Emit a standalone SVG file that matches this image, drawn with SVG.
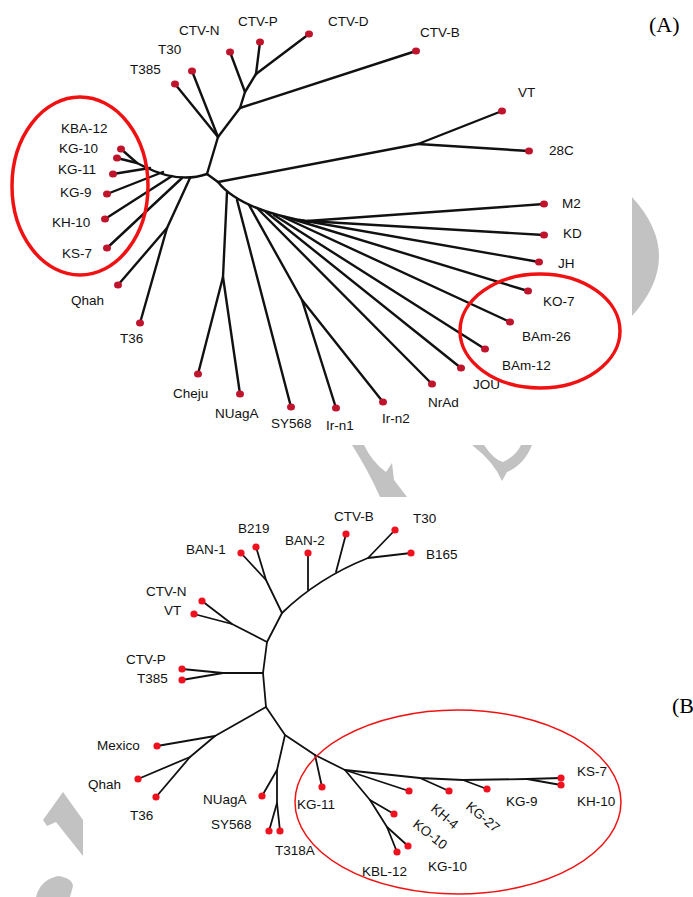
<svg xmlns="http://www.w3.org/2000/svg" width="693" height="897" viewBox="0 0 693 897">
<style>
  .lab { font-family: "Liberation Sans", Arial, sans-serif; font-size: 13.5px; fill: #111; }
  .tag { font-family: "Liberation Serif", "Times New Roman", serif; font-size: 22px; fill: #000; }
  .ea { stroke: #111; stroke-width: 2.4; fill: none; stroke-linecap: round; stroke-linejoin: round; }
  .eb { stroke: #111; stroke-width: 1.8; fill: none; stroke-linecap: round; stroke-linejoin: round; }
  .ta { fill: #c0142c; }
  .tb { fill: #f0101e; }
  .ring { fill: none; stroke: #f01212; }
  .mark { fill: #c2c2c2; }
</style>

<rect width="693" height="897" fill="#ffffff"/>

<!-- faint grey mark shapes -->
<g id="marks">
  <path class="mark" d="M632,197 Q686,256 632,316 Z"/>
  <path class="mark" d="M352,445 L364,445 Q372,462 386,472 L392,463 L394,480 L407,497 L380,497 Q368,470 352,445 Z"/>
  <path class="mark" d="M472,445 L484,445 Q494,460 503,462 Q516,456 521,445 L532,445 Q524,465 507,472 L502,481 Q494,462 472,445 Z"/>
  <path class="mark" d="M63,792 L83,820 L83,856 L56,822 L47,826 L43,820 Z"/>
  <path class="mark" d="M36,897 Q40,880 58,876 Q72,878 73,886 L70,897 Z"/>
</g>

<!-- (A) tree: branches -->
<g id="edges-a" class="ea">
  <!-- left backbone -->
  <path d="M207,174 Q178,184 143,166"/>
  <path d="M121,149 L137,163 L143,166"/>
  <path d="M117,158 L137,163"/>
  <path d="M113,174 L150,168"/>
  <path d="M107,194 L163,172"/>
  <path d="M105,219 L172,176"/>
  <path d="M107,248 L182,178"/>
  <path d="M140,323 L167,228 L190,178"/>
  <path d="M118,285 L167,228"/>
  <!-- upper spine -->
  <path d="M207,174 L218,137 L240,108 L245,92 L256,74"/>
  <path d="M175,84 L218,137"/>
  <path d="M192,71 L218,137"/>
  <path d="M240,108 L416,51"/>
  <path d="M245,92 L230,52"/>
  <path d="M256,74 L260,42"/>
  <path d="M256,74 L309,34"/>
  <!-- right arm -->
  <path d="M207,174 L218,182 L418,144 L502,111"/>
  <path d="M418,144 L529,151"/>
  <!-- lower fan -->
  <path d="M218,182 Q240,210 310,222"/>
  <path d="M227,192 L223,277 L198,374"/>
  <path d="M223,277 L240,394"/>
  <path d="M237,200 L291,407"/>
  <path d="M249,205 L302,300 L336,408"/>
  <path d="M302,300 L383,402"/>
  <path d="M258,209 L432,384"/>
  <path d="M266,212 L461,368"/>
  <path d="M274,215 L485,349"/>
  <path d="M283,217 L510,322"/>
  <path d="M292,219 L528,291"/>
  <path d="M300,220 L539,262"/>
  <path d="M307,221 L544,235"/>
  <path d="M307,221 L544,204"/>
</g>

<!-- (A) tree: tips and labels -->
<g id="tips-a">
  <g id="a-ctvn"><ellipse class="ta" cx="230" cy="52" rx="4" ry="3.5"/><text class="lab" x="179" y="35">CTV-N</text></g>
  <g id="a-ctvp"><ellipse class="ta" cx="260" cy="42" rx="4" ry="3.5"/><text class="lab" x="238" y="26">CTV-P</text></g>
  <g id="a-ctvd"><ellipse class="ta" cx="309" cy="34" rx="4" ry="3.5"/><text class="lab" x="328" y="26">CTV-D</text></g>
  <g id="a-ctvb"><ellipse class="ta" cx="416" cy="51" rx="4" ry="3.5"/><text class="lab" x="420" y="37">CTV-B</text></g>
  <g id="a-t30"><ellipse class="ta" cx="192" cy="71" rx="4" ry="3.5"/><text class="lab" x="158" y="54">T30</text></g>
  <g id="a-t385"><ellipse class="ta" cx="175" cy="84" rx="4" ry="3.5"/><text class="lab" x="130" y="74">T385</text></g>
  <g id="a-vt"><ellipse class="ta" cx="502" cy="111" rx="4" ry="3.5"/><text class="lab" x="518" y="97">VT</text></g>
  <g id="a-28c"><ellipse class="ta" cx="529" cy="151" rx="4" ry="3.5"/><text class="lab" x="549" y="155">28C</text></g>
  <g id="a-kba12"><ellipse class="ta" cx="121" cy="149" rx="4" ry="3.5"/><text class="lab" x="61" y="133">KBA-12</text></g>
  <g id="a-kg10"><ellipse class="ta" cx="117" cy="158" rx="4" ry="3.5"/><text class="lab" x="59" y="153">KG-10</text></g>
  <g id="a-kg11"><ellipse class="ta" cx="113" cy="174" rx="4" ry="3.5"/><text class="lab" x="58" y="174">KG-11</text></g>
  <g id="a-kg9"><ellipse class="ta" cx="107" cy="194" rx="4" ry="3.5"/><text class="lab" x="60" y="197">KG-9</text></g>
  <g id="a-kh10"><ellipse class="ta" cx="105" cy="219" rx="4" ry="3.5"/><text class="lab" x="52" y="227">KH-10</text></g>
  <g id="a-ks7"><ellipse class="ta" cx="107" cy="248" rx="4" ry="3.5"/><text class="lab" x="62" y="258">KS-7</text></g>
  <g id="a-qhah"><ellipse class="ta" cx="118" cy="285" rx="4" ry="3.5"/><text class="lab" x="71" y="305">Qhah</text></g>
  <g id="a-t36"><ellipse class="ta" cx="140" cy="323" rx="4" ry="3.5"/><text class="lab" x="120" y="343">T36</text></g>
  <g id="a-cheju"><ellipse class="ta" cx="198" cy="374" rx="4" ry="3.5"/><text class="lab" x="173" y="398">Cheju</text></g>
  <g id="a-nuaga"><ellipse class="ta" cx="240" cy="394" rx="4" ry="3.5"/><text class="lab" x="215" y="418">NUagA</text></g>
  <g id="a-sy568"><ellipse class="ta" cx="291" cy="407" rx="4" ry="3.5"/><text class="lab" x="271" y="428">SY568</text></g>
  <g id="a-irn1"><ellipse class="ta" cx="336" cy="408" rx="4" ry="3.5"/><text class="lab" x="326" y="430">Ir-n1</text></g>
  <g id="a-irn2"><ellipse class="ta" cx="383" cy="402" rx="4" ry="3.5"/><text class="lab" x="382" y="423">Ir-n2</text></g>
  <g id="a-nrad"><ellipse class="ta" cx="432" cy="384" rx="4" ry="3.5"/><text class="lab" x="428" y="407">NrAd</text></g>
  <g id="a-jou"><ellipse class="ta" cx="461" cy="368" rx="4" ry="3.5"/><text class="lab" x="473" y="389">JOU</text></g>
  <g id="a-bam12"><ellipse class="ta" cx="485" cy="349" rx="4" ry="3.5"/><text class="lab" x="502" y="370">BAm-12</text></g>
  <g id="a-bam26"><ellipse class="ta" cx="510" cy="322" rx="4" ry="3.5"/><text class="lab" x="522" y="341">BAm-26</text></g>
  <g id="a-ko7"><ellipse class="ta" cx="528" cy="291" rx="4" ry="3.5"/><text class="lab" x="543" y="306">KO-7</text></g>
  <g id="a-jh"><ellipse class="ta" cx="539" cy="262" rx="4" ry="3.5"/><text class="lab" x="558" y="268">JH</text></g>
  <g id="a-kd"><ellipse class="ta" cx="544" cy="235" rx="4" ry="3.5"/><text class="lab" x="563" y="238">KD</text></g>
  <g id="a-m2"><ellipse class="ta" cx="544" cy="204" rx="4" ry="3.5"/><text class="lab" x="562" y="208">M2</text></g>
</g>

<g id="rings-a">
  <ellipse class="ring" cx="80" cy="186" rx="68" ry="89" stroke-width="3.5"/>
  <ellipse class="ring" cx="540" cy="331" rx="80" ry="57" stroke-width="3.5"/>
</g>
<text class="tag" x="649" y="32">(A)</text>

<!-- (B) tree: branches -->
<g id="edges-b" class="eb">
  <path d="M241,553 L266,580 L282,613"/>
  <path d="M256,547 L266,580"/>
  <path d="M282,613 Q318,578 368,558"/>
  <path d="M308,553 L308,590"/>
  <path d="M346,534 L336,572"/>
  <path d="M395,530 L368,558 L411,553"/>
  <path d="M282,613 L267,642 L263,673 L266,707"/>
  <path d="M202,601 L232,624 L267,642"/>
  <path d="M194,614 L232,624"/>
  <path d="M182,669 L223,673 L263,673"/>
  <path d="M182,680 L223,673"/>
  <path d="M266,707 L215,736 L157,746"/>
  <path d="M215,736 L190,757 L138,779"/>
  <path d="M190,757 L156,797"/>
  <path d="M266,707 L285,735 L277,770 L277,803 L269,831"/>
  <path d="M277,770 L262,796"/>
  <path d="M277,803 L280,831"/>
  <path d="M285,735 L315,755 L345,770"/>
  <path d="M315,755 L322,787"/>
  <path d="M345,770 L409,791"/>
  <path d="M345,770 L420,778 L463,780 L527,779 L561,778"/>
  <path d="M527,779 L561,785"/>
  <path d="M420,778 L449,791"/>
  <path d="M463,780 L487,789"/>
  <path d="M345,770 L370,800 L387,827 L397,852"/>
  <path d="M370,800 L394,814"/>
  <path d="M387,827 L408,846"/>
</g>

<!-- (B) tree: tips and labels -->
<g id="tips-b">
  <g id="b-b219"><circle class="tb" cx="256" cy="547" r="3.6"/><text class="lab" x="238" y="533">B219</text></g>
  <g id="b-ban1"><circle class="tb" cx="241" cy="553" r="3.6"/><text class="lab" x="186" y="554">BAN-1</text></g>
  <g id="b-ban2"><circle class="tb" cx="308" cy="553" r="3.6"/><text class="lab" x="285" y="545">BAN-2</text></g>
  <g id="b-ctvb"><circle class="tb" cx="346" cy="534" r="3.6"/><text class="lab" x="334" y="521">CTV-B</text></g>
  <g id="b-t30"><circle class="tb" cx="395" cy="530" r="3.6"/><text class="lab" x="413" y="523">T30</text></g>
  <g id="b-b165"><circle class="tb" cx="411" cy="553" r="3.6"/><text class="lab" x="426" y="559">B165</text></g>
  <g id="b-ctvn"><circle class="tb" cx="202" cy="601" r="3.6"/><text class="lab" x="146" y="596">CTV-N</text></g>
  <g id="b-vt"><circle class="tb" cx="194" cy="614" r="3.6"/><text class="lab" x="164" y="615">VT</text></g>
  <g id="b-ctvp"><circle class="tb" cx="182" cy="669" r="3.6"/><text class="lab" x="126" y="664">CTV-P</text></g>
  <g id="b-t385"><circle class="tb" cx="182" cy="680" r="3.6"/><text class="lab" x="137" y="683">T385</text></g>
  <g id="b-mexico"><circle class="tb" cx="157" cy="746" r="3.6"/><text class="lab" x="97" y="750">Mexico</text></g>
  <g id="b-qhah"><circle class="tb" cx="138" cy="779" r="3.6"/><text class="lab" x="88" y="789">Qhah</text></g>
  <g id="b-t36"><circle class="tb" cx="156" cy="797" r="3.6"/><text class="lab" x="130" y="820">T36</text></g>
  <g id="b-nuaga"><circle class="tb" cx="262" cy="796" r="3.6"/><text class="lab" x="203" y="804">NUagA</text></g>
  <g id="b-sy568"><circle class="tb" cx="269" cy="831" r="3.6"/><text class="lab" x="211" y="829">SY568</text></g>
  <g id="b-t318a"><circle class="tb" cx="280" cy="831" r="3.6"/><text class="lab" x="275" y="855">T318A</text></g>
  <g id="b-kg11"><circle class="tb" cx="322" cy="787" r="3.6"/><text class="lab" x="297" y="809">KG-11</text></g>
  <g id="b-kh4"><circle class="tb" cx="409" cy="791" r="3.6"/><text class="lab" transform="translate(430,810) rotate(40)">KH-4</text></g>
  <g id="b-kg27"><circle class="tb" cx="449" cy="791" r="3.6"/><text class="lab" transform="translate(465,808) rotate(40)">KG-27</text></g>
  <g id="b-kg9"><circle class="tb" cx="487" cy="789" r="3.6"/><text class="lab" x="506" y="806">KG-9</text></g>
  <g id="b-ks7"><circle class="tb" cx="561" cy="778" r="3.6"/><text class="lab" x="577" y="776">KS-7</text></g>
  <g id="b-kh10"><circle class="tb" cx="561" cy="785" r="3.6"/><text class="lab" x="577" y="806">KH-10</text></g>
  <g id="b-ko10"><circle class="tb" cx="394" cy="814" r="3.6"/><text class="lab" transform="translate(412,826) rotate(38)">KO-10</text></g>
  <g id="b-kg10"><circle class="tb" cx="408" cy="846" r="3.6"/><text class="lab" x="428" y="871">KG-10</text></g>
  <g id="b-kbl12"><circle class="tb" cx="397" cy="852" r="3.6"/><text class="lab" x="362" y="876">KBL-12</text></g>
</g>

<ellipse class="ring" cx="458" cy="802" rx="163" ry="92" stroke-width="1.5"/>
<text class="tag" x="672" y="713">(B)</text>
</svg>
